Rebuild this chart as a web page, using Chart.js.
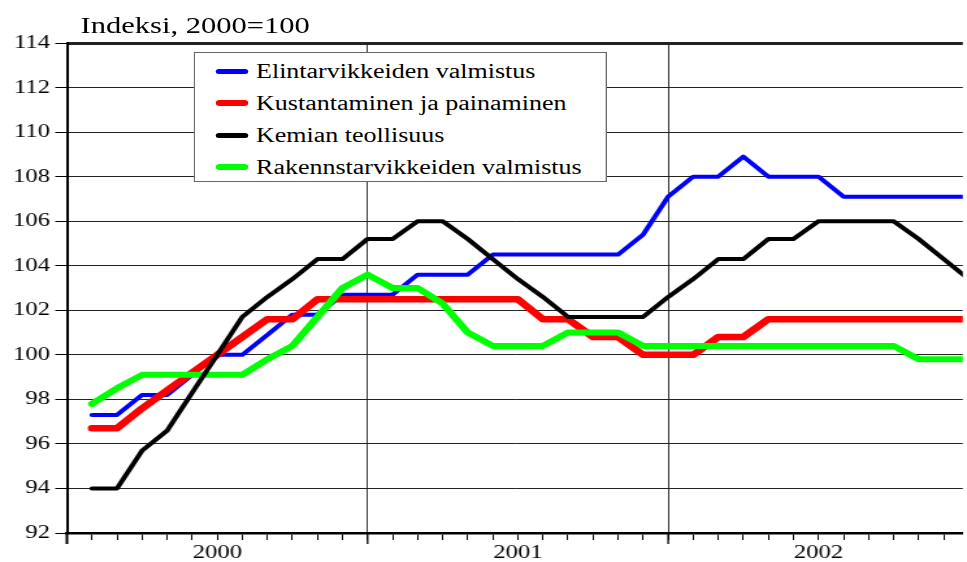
<!DOCTYPE html>
<html>
<head>
<meta charset="utf-8">
<script src="https://cdn.jsdelivr.net/npm/chart.js@4.4.1/dist/chart.umd.min.js"></script>
<style>
    html, body { margin: 0; padding: 0; background: #fff; }
    body { width: 967px; height: 562px; overflow: hidden; }
    /* the original picture is stretched sideways, so the whole stage is too */
    #stage { position: relative; width: 744px; height: 562px; transform: scaleX(1.2997); transform-origin: 0 0; font-family: 'Liberation Serif', 'Times New Roman', serif; color: #000; }
    #chartBox { position: absolute; left: 0; top: 0; width: 744px; height: 562px; }
    #title { position: absolute; left: 62px; top: 14px; font-size: 23.5px; line-height: 23.5px; white-space: nowrap; }
    #legend { position: absolute; left: 149px; top: 52px; width: 318px; height: 130px; box-sizing: border-box; border: 1px solid #666; background: #fff; padding-top: 2px; }
    .row { height: 32px; display: flex; align-items: center; font-size: 20px; white-space: nowrap; }
    .swatch { width: 25px; border-radius: 3px; margin-left: 16px; margin-right: 6px; }
</style>
</head>
<body>
<div id="stage">
    <div id="chartBox"><canvas id="chart"></canvas></div>
    <div id="title">Indeksi, 2000=100</div>
    <div id="legend"></div>
</div>
<script>
// Monthly periods, Jan 2000 - Dec 2002
const months = [
    '2000M01', '2000M02', '2000M03', '2000M04', '2000M05', '2000M06',
    '2000M07', '2000M08', '2000M09', '2000M10', '2000M11', '2000M12',
    '2001M01', '2001M02', '2001M03', '2001M04', '2001M05', '2001M06',
    '2001M07', '2001M08', '2001M09', '2001M10', '2001M11', '2001M12',
    '2002M01', '2002M02', '2002M03', '2002M04', '2002M05', '2002M06',
    '2002M07', '2002M08', '2002M09', '2002M10', '2002M11', '2002M12'
];
const yearLabels = ['2000', '2001', '2002'];

const elintarvikkeet = [
    97.3, 97.3, 98.2, 98.2, 99.1, 100.0, 100.0, 100.9, 101.8, 101.8, 102.7, 102.7,
    102.7, 103.6, 103.6, 103.6, 104.5, 104.5, 104.5, 104.5, 104.5, 104.5, 105.4, 107.1,
    108.0, 108.0, 108.9, 108.0, 108.0, 108.0, 107.1, 107.1, 107.1, 107.1, 107.1, 107.1
];
const kustantaminen = [
    96.7, 96.7, 97.6, 98.4, 99.2, 100.0, 100.8, 101.6, 101.6, 102.5, 102.5, 102.5,
    102.5, 102.5, 102.5, 102.5, 102.5, 102.5, 101.6, 101.6, 100.8, 100.8, 100.0, 100.0,
    100.0, 100.8, 100.8, 101.6, 101.6, 101.6, 101.6, 101.6, 101.6, 101.6, 101.6, 101.6
];
const kemia = [
    94.0, 94.0, 95.7, 96.6, 98.3, 100.0, 101.7, 102.6, 103.4, 104.3, 104.3, 105.2,
    105.2, 106.0, 106.0, 105.2, 104.3, 103.4, 102.6, 101.7, 101.7, 101.7, 101.7, 102.6,
    103.4, 104.3, 104.3, 105.2, 105.2, 106.0, 106.0, 106.0, 106.0, 105.2, 104.3, 103.4
];
const rakennustarvikkeet = [
    97.8, 98.5, 99.1, 99.1, 99.1, 99.1, 99.1, 99.8, 100.4, 101.7, 103.0, 103.6,
    103.0, 103.0, 102.3, 101.0, 100.4, 100.4, 100.4, 101.0, 101.0, 101.0, 100.4, 100.4,
    100.4, 100.4, 100.4, 100.4, 100.4, 100.4, 100.4, 100.4, 100.4, 99.8, 99.8, 99.8
];

const yTicks = [92, 94, 96, 98, 100, 102, 104, 106, 108, 110, 112, 114];

const series = [
    { label: 'Elintarvikkeiden valmistus', data: elintarvikkeet, color: '#0000ff', width: 4, order: 3 },
    { label: 'Kustantaminen ja painaminen', data: kustantaminen, color: '#ff0000', width: 6.5, order: 2 },
    { label: 'Kemian teollisuus', data: kemia, color: '#000000', width: 4, order: 0 },
    { label: 'Rakennstarvikkeiden valmistus', data: rakennustarvikkeet, color: '#00ff00', width: 6, order: 1 }
];

// Legend
const legendBox = document.getElementById('legend');
series.forEach(s => {
    const row = document.createElement('div');
    row.className = 'row';
    row.innerHTML = `<span class="swatch" style="background:${s.color};height:${Math.max(5, s.width)}px"></span><span>${s.label}</span>`;
    legendBox.appendChild(row);
});

// Longer tick marks at the year boundaries
const yearTicks = {
    id: 'yearTicks',
    afterDraw(chart) {
        const xs = chart.scales.x;
        const ctx = chart.ctx;
        const bottom = chart.chartArea.bottom;
        ctx.save();
        ctx.strokeStyle = '#000';
        [0, 12, 24].forEach(v => {
            const px = xs.getPixelForValue(v);
            ctx.lineWidth = v === 0 ? 2 : 1.3;
            ctx.beginPath();
            ctx.moveTo(px, bottom);
            ctx.lineTo(px, bottom + 11);
            ctx.stroke();
        });
        ctx.restore();
    }
};

Chart.defaults.font.family = "'Liberation Serif', 'Times New Roman', serif";
Chart.defaults.color = '#000';

new Chart(document.getElementById('chart').getContext('2d'), {
    type: 'line',
    data: {
        datasets: series.map(s => ({
            label: s.label,
            data: months.map((m, i) => ({ x: i + 1, y: s.data[i] })),
            borderColor: s.color,
            backgroundColor: s.color,
            borderWidth: s.width,
            borderCapStyle: 'round',
            borderJoinStyle: 'round',
            pointRadius: 0,
            fill: false,
            tension: 0,
            order: s.order
        }))
    },
    options: {
        responsive: true,
        maintainAspectRatio: false,
        animation: false,
        layout: { padding: { top: 43, right: 0, bottom: 0, left: 0 } },
        plugins: {
            legend: { display: false },
            tooltip: { enabled: false }
        },
        scales: {
            x: {
                type: 'linear',
                min: 0,
                max: 35.76,
                afterBuildTicks: scale => {
                    scale.ticks = months.map((m, i) => ({ value: i }));
                },
                afterFit: scale => { scale.height = 29; },
                grid: {
                    color: ctx => (ctx.tick && ctx.tick.value % 12 === 0 && ctx.tick.value > 0) ? '#333' : 'rgba(0,0,0,0)',
                    lineWidth: 1,
                    tickColor: '#000',
                    tickWidth: 1,
                    tickLength: 7
                },
                border: { color: '#000', width: 2.5 },
                ticks: {
                    autoSkip: false,
                    maxRotation: 0,
                    minRotation: 0,
                    padding: 2,
                    font: { size: 19 },
                    callback: value => (value % 12 === 6) ? yearLabels[(value - 6) / 12] : ''
                }
            },
            y: {
                min: 92,
                max: 114,
                afterBuildTicks: scale => {
                    scale.ticks = yTicks.map(v => ({ value: v }));
                },
                afterFit: scale => { scale.width = 51.5; },
                grid: {
                    color: '#222',
                    lineWidth: ctx => (ctx.tick && ctx.tick.value === 114) ? 3 : 1,
                    tickColor: '#000',
                    tickWidth: 1,
                    tickLength: 9
                },
                border: { color: '#000', width: 2 },
                ticks: {
                    padding: 4,
                    font: { size: 19 }
                }
            }
        }
    },
    plugins: [yearTicks]
});
</script>
</body>
</html>
